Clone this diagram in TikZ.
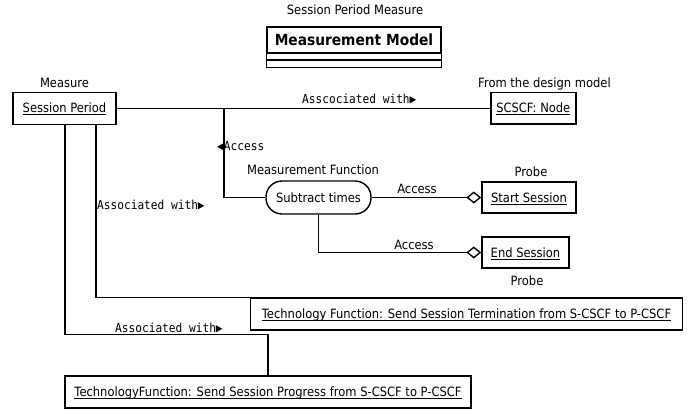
\documentclass[tikz,border=0pt]{standalone}
\usepackage{fontspec}
\setmainfont{DejaVu Sans}[FakeStretch=0.9]
\setmonofont{DejaVu Sans Mono}[FakeStretch=0.9]
\usetikzlibrary{arrows.meta,calc}
\newsavebox\undlbox
\newcommand\undl[1]{\sbox\undlbox{#1}\rlap{\rule[-2.3pt]{\wd\undlbox}{0.9pt}}\usebox\undlbox}
\begin{document}
\begin{tikzpicture}[x=1pt,y=-1pt,
  font=\fontsize{12.8}{14}\selectfont,
  every node/.style={inner sep=0pt},
  obj/.style={draw, line width=1.4pt, text height=9.3pt, text depth=0pt},
  lbl/.style={anchor=base},
  mono/.style={anchor=base west, font=\fontsize{12.4}{14}\selectfont\ttfamily},
  link/.style={line width=1.4pt},
  agg/.style={link, -{Diamond[open,length=15pt,width=12pt]}}]
\useasboundingbox (0,0) rectangle (697,413);

% title and measurement model
\node[lbl] (title) at (355,14) {Session Period Measure};
\node[draw, line width=1.4pt, minimum width=174pt, minimum height=25.7pt,
      font=\fontsize{15.3}{17}\selectfont\bfseries] (mm) at (354,39.8) {Measurement Model};
\draw[line width=1.4pt] (mm.south west) rectangle ($(mm.south east)+(0,6.8)$);
\draw[line width=1.4pt] ($(mm.south west)+(0,6.8)$) rectangle ($(mm.south east)+(0,14.3)$);

% objects
\node[obj, minimum width=103pt, minimum height=32pt] (sp) at (64.5,108.3) {\undl{Session Period}};
\node[lbl] (spl) at (64.5,87) {Measure};
\node[obj, minimum width=85pt, minimum height=31.3pt] (scscf) at (533.3,108.3) {\undl{SCSCF: Node}};
\node[lbl] (scscfl) at (544.5,87) {From the design model};
\node[obj, rounded corners=16pt, minimum width=105pt, minimum height=33pt] (st) at (318.5,197.5) {Subtract times};
\node[lbl] (stl) at (313,174) {Measurement Function};
\node[obj, minimum width=94pt, minimum height=31.3pt] (ss) at (529,197.5) {\undl{Start Session}};
\node[lbl] (ssl) at (531,176) {Probe};
\node[obj, minimum width=87pt, minimum height=31pt] (es) at (525.5,252.5) {\undl{End Session}};
\node[lbl] (esl) at (527,285) {Probe};
\node[obj, minimum width=431.5pt, minimum height=32pt] (term) at (466.5,314) {\undl{Technology Function: Send Session Termination from S-CSCF to P-CSCF}};
\node[obj, minimum width=406pt, minimum height=32pt] (pr) at (268,392) {\undl{TechnologyFunction: Send Session Progress from S-CSCF to P-CSCF}};

% connectors
\coordinate (j1) at (224,108.3);
\coordinate (a1) at (96,124.3);
\coordinate (a2) at (65,124.3);
\coordinate (b2) at (268,334.5);

\draw[link] (sp.east) -- (scscf.west);
\node[mono] (l1) at (302,103.7) {Asscociated with▶};

\draw[link] (st.west) -| (j1);
\node[mono] (l2) at (217,150) {◀Access};

\draw[agg] (st.east) -- (ss.west);
\node[lbl] (l3) at (417,193) {Access};

\draw[agg] (st.south) |- (es.west);
\node[lbl] (l4) at (414,249) {Access};

\draw[link] (a1) |- (term.north west);
\node[mono] (l5) at (97,209) {Associated with▶};

\draw[link] (a2) |- (b2) -- (pr.north);
\node[mono] (l6) at (115,332) {Associated with▶};
\end{tikzpicture}
\end{document}
